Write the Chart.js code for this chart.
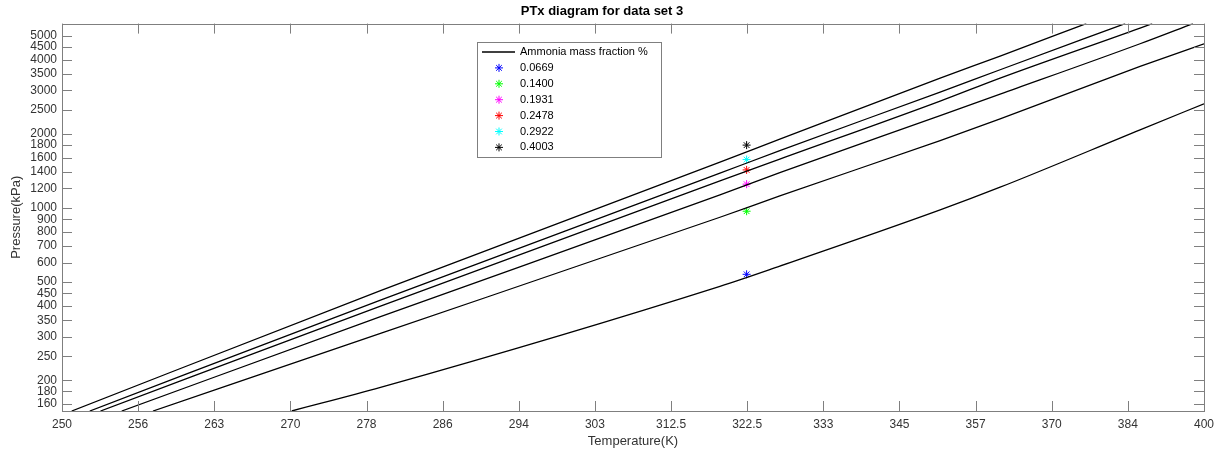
<!DOCTYPE html>
<html lang="en">
<head>
  <meta charset="UTF-8">
  <title>PTx diagram for data set 3</title>
  <script src="https://cdn.jsdelivr.net/npm/chart.js"></script>
  <style>
    body { margin: 0; background: #fff; }
    #wrap { width: 1224px; height: 454px; }
  </style>
</head>
<body>
  <div id="wrap"><canvas id="ptx" width="1224" height="454"></canvas></div>

  <script>
    // x axis is linear in 1000/T, labelled with temperatures
    const xTickInv = [4.0, 3.9, 3.8, 3.7, 3.6, 3.5, 3.4, 3.3, 3.2, 3.1, 3.0, 2.9, 2.8, 2.7, 2.6, 2.5];
    const xTickLabels = ['250', '256', '263', '270', '278', '286', '294', '303', '312.5', '322.5', '333', '345', '357', '370', '384', '400'];
    const yTicks = [160, 180, 200, 250, 300, 350, 400, 450, 500, 600, 700, 800, 900, 1000,
                    1200, 1400, 1600, 1800, 2000, 2500, 3000, 3500, 4000, 4500, 5000];

    // curves (T in K, P in kPa), top to bottom
    const tempA = [250.8, 279.2, 318.9, 327.1, 351.3, 361.3, 376.7];
    const presA = [150, 462, 1534, 1902, 3366, 4135, 5600];
    const tempB = [252.3, 279.2, 318.9, 327.1, 351.3, 361.3, 384.1];
    const presB = [150, 423, 1384, 1710, 2953, 3638, 5600];
    const tempC = [253.2, 279.2, 318.9, 327.1, 351.3, 361.3, 387.0, 389.4];
    const presC = [150, 400, 1288, 1578, 2714, 3366, 5373, 5600];
    const tempD = [255.0, 279.2, 318.9, 327.1, 351.3, 361.3, 387.0, 397.7];
    const presD = [150, 362, 1130, 1392, 2372, 2898, 4639, 5600];
    const tempE = [257.7, 279.2, 318.9, 327.1, 351.3, 361.3, 387.0, 400];
    const presE = [150, 310, 917, 1119, 1878, 2300, 3752, 4639];
    const tempF = [270.4, 279.2, 318.9, 327.1, 351.3, 361.3, 387.0, 400];
    const presF = [150, 187, 481, 581, 982, 1214, 2075, 2647];

    // measured points
    const markerTemp = 322.5;
    const markerLabels = ['0.0669', '0.1400', '0.1931', '0.2478', '0.2922', '0.4003'];
    const markerPres = [538, 970, 1249, 1427, 1572, 1799];
    const markerColors = ['#0000ff', '#00ff00', '#ff00ff', '#ff0000', '#00ffff', '#000000'];

    const legendTitle = 'Ammonia mass fraction %';
    const boxColor = '#7f7f7f';

    Chart.defaults.font.family = "'Liberation Sans', Arial, sans-serif";
    Chart.defaults.color = '#333';

    const toPts = (ts, ps) => ts.map((t, i) => ({ x: 1000 / t, y: ps[i] }));

    const curves = [[tempA, presA], [tempB, presB], [tempC, presC], [tempD, presD], [tempE, presE], [tempF, presF]];
    const datasets = curves.map(c => ({
      type: 'line',
      data: toPts(c[0], c[1]),
      borderColor: '#000',
      borderWidth: 1.3,
      pointRadius: 0,
      cubicInterpolationMode: 'monotone',
      fill: false
    }));
    markerPres.forEach((p, i) => {
      datasets.push({
        type: 'scatter',
        label: markerLabels[i],
        data: [{ x: 1000 / markerTemp, y: p }],
        pointStyle: 'star',
        pointRadius: 4,
        borderColor: markerColors[i],
        backgroundColor: markerColors[i],
        borderWidth: 1
      });
    });

    // asterisk like MATLAB's '*' marker
    function star(ctx, cx, cy, r, color) {
      const d = r * Math.SQRT1_2;
      ctx.strokeStyle = color;
      ctx.lineWidth = 1;
      ctx.beginPath();
      ctx.moveTo(cx - r, cy); ctx.lineTo(cx + r, cy);
      ctx.moveTo(cx, cy - r); ctx.lineTo(cx, cy + r);
      ctx.moveTo(cx - d, cy - d); ctx.lineTo(cx + d, cy + d);
      ctx.moveTo(cx - d, cy + d); ctx.lineTo(cx + d, cy - d);
      ctx.stroke();
    }

    // MATLAB-style box with inward ticks on all four sides
    const boxTicks = {
      id: 'boxTicks',
      afterDraw(chart) {
        const { ctx, chartArea: a, scales: { x, y } } = chart;
        const len = 10;
        ctx.save();
        ctx.strokeStyle = boxColor;
        ctx.lineWidth = 1;
        ctx.beginPath();
        x.ticks.forEach(t => {
          const px = Math.round(x.getPixelForValue(t.value)) + 0.5;
          ctx.moveTo(px, a.bottom); ctx.lineTo(px, a.bottom - len);
          ctx.moveTo(px, a.top); ctx.lineTo(px, a.top + len);
        });
        y.ticks.forEach(t => {
          const py = Math.round(y.getPixelForValue(t.value)) + 0.5;
          ctx.moveTo(a.left, py); ctx.lineTo(a.left + len, py);
          ctx.moveTo(a.right, py); ctx.lineTo(a.right - len, py);
        });
        ctx.stroke();
        ctx.strokeRect(Math.round(a.left) + 0.5, Math.round(a.top) + 0.5,
                       Math.round(a.right - a.left), Math.round(a.bottom - a.top));
        ctx.restore();
      }
    };

    // legend box inside the plot
    const innerLegend = {
      id: 'innerLegend',
      afterDraw(chart) {
        const { ctx } = chart;
        const bx = 477, by = 42, bw = 184, bh = 115, row = 15.9;
        ctx.save();
        ctx.fillStyle = '#fff';
        ctx.fillRect(bx, by, bw, bh);
        ctx.strokeStyle = boxColor;
        ctx.lineWidth = 1;
        ctx.strokeRect(bx + 0.5, by + 0.5, bw, bh);
        ctx.font = "11px 'Liberation Sans', Arial, sans-serif";
        ctx.textBaseline = 'middle';
        ctx.fillStyle = '#000';
        let yy = by + 10;
        ctx.strokeStyle = '#000';
        ctx.lineWidth = 1.3;
        ctx.beginPath();
        ctx.moveTo(482, yy); ctx.lineTo(515, yy);
        ctx.stroke();
        ctx.fillText(legendTitle, 520, yy);
        markerLabels.forEach((lab, i) => {
          yy = by + 10 + (i + 1) * row;
          star(ctx, 499, yy, 4, markerColors[i]);
          ctx.fillText(lab, 520, yy);
        });
        ctx.restore();
      }
    };

    new Chart(document.getElementById('ptx'), {
      type: 'line',
      data: { datasets },
      plugins: [boxTicks, innerLegend],
      options: {
        responsive: false,
        animation: false,
        devicePixelRatio: 1,
        layout: { padding: { left: 0, right: 20, top: 0, bottom: 0 } },
        plugins: {
          legend: { display: false },
          tooltip: { enabled: false },
          title: {
            display: true,
            text: 'PTx diagram for data set 3',
            color: '#000',
            font: { size: 13, weight: 'bold' },
            padding: { top: 4, bottom: 4 }
          }
        },
        scales: {
          x: {
            type: 'linear',
            reverse: true,
            min: 2.5,
            max: 4.0,
            afterBuildTicks: s => { s.ticks = xTickInv.map(v => ({ value: v })); },
            afterFit: s => { s.height = 43; },
            grid: { display: false, drawTicks: false },
            border: { display: false },
            ticks: {
              autoSkip: false,
              maxRotation: 0,
              padding: 6,
              font: { size: 12 },
              callback: v => {
                const i = xTickInv.findIndex(t => Math.abs(t - v) < 1e-6);
                return i >= 0 ? xTickLabels[i] : '';
              }
            },
            title: {
              display: true,
              text: 'Temperature(K)',
              font: { size: 13 },
              padding: { top: 0, bottom: 5 }
            }
          },
          y: {
            type: 'logarithmic',
            min: 150,
            max: 5600,
            afterBuildTicks: s => { s.ticks = yTicks.map(v => ({ value: v })); },
            afterFit: s => { s.width = 62; },
            grid: { display: false, drawTicks: false },
            border: { display: false },
            ticks: {
              autoSkip: false,
              padding: 5,
              font: { size: 12 },
              callback: v => String(v)
            },
            title: {
              display: true,
              text: 'Pressure(kPa)',
              font: { size: 13 },
              padding: { top: 9, bottom: 0 }
            }
          }
        }
      }
    });
  </script>
</body>
</html>
